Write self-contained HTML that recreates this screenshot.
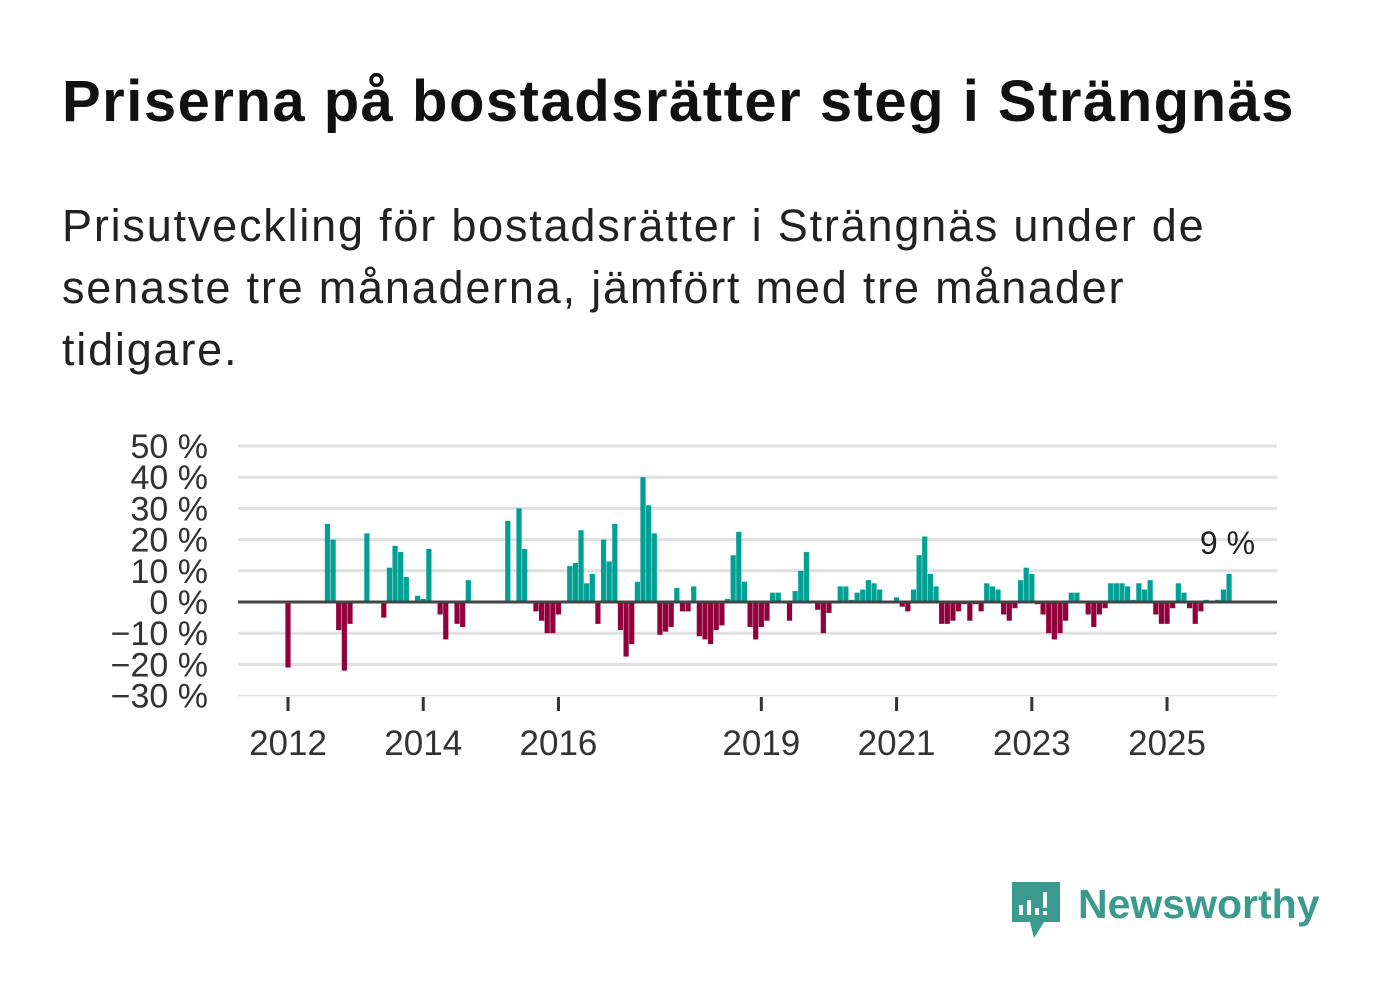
<!DOCTYPE html>
<html><head><meta charset="utf-8"><style>
body{margin:0;width:1382px;height:999px;background:#fff;font-family:"Liberation Sans",sans-serif;overflow:hidden;position:relative}
h1{position:absolute;left:62px;top:68px;margin:0;font-size:58px;font-weight:bold;color:#111;letter-spacing:1.5px;white-space:nowrap}
p{position:absolute;left:62px;top:195px;margin:0;font-size:45px;line-height:62px;color:#222;letter-spacing:1.8px;white-space:nowrap}
svg{position:absolute;left:0;top:0}
</style></head><body>
<h1>Priserna på bostadsrätter steg i Strängnäs</h1>
<p>Prisutveckling för bostadsrätter i Strängnäs under de<br>senaste tre månaderna, jämfört med tre månader<br>tidigare.</p>
<svg id="chart" width="1382" height="999"></svg>
<svg width="1382" height="999" style="pointer-events:none">
<g>
<path d="M1012 882h48v40h-16l-10 16-4-16h-18z" fill="#3a9a8d"/>
<rect x="1019" y="905" width="4" height="10" fill="#fff"/><rect x="1027" y="900" width="4" height="15" fill="#fff"/><rect x="1035" y="908" width="4" height="7" fill="#fff"/><rect x="1043" y="892" width="4" height="16" fill="#fff"/><rect x="1043" y="911" width="4" height="4" fill="#fff"/>
<text x="1078" y="918" font-size="41" font-weight="bold" fill="#3a9a8d" font-family="Liberation Sans, sans-serif">Newsworthy</text>
</g></svg>
<script>
const startIndex=[0,7,8,9,10,11,14,17,18,19,20,21,23,24,25,27,28,30,31,32,39,41,42,44,45,46,47,48,50,51,52,53,54,55,56,57,58,59,60,61,62,63,64,65,66,67,68,69,70,71,72,73,74,75,76,77,78,79,80,81,82,83,84,85,86,87,89,90,91,92,93,94,95,96,98,99,100,101,102,103,104,105,108,109,110,111,112,113,114,115,116,117,118,119,120,121,122,123,124,125,126,127,128,129,130,131,132,133,134,135,136,137,138,139,140,142,143,144,145,146,147,148,149,150,151,152,153,154,155,156,157,158,159,160,161,162,163,165,166,167];
const values=[-21,25,20,-9,-22,-7,22,-5,11,18,16,8,2,1,17,-4,-12,-7,-8,7,26,30,17,-3,-6,-10,-10,-4,11.5,12.5,23,6,9,-7,20,13,25,-9,-17.5,-13.5,6.5,40,31,22,-10.5,-9.5,-8,4.5,-3,-3,5,-11,-12,-13.5,-9,-7.5,1,15,22.5,6.5,-8,-12,-8,-6,3,3,-6,3.5,10,16,0.5,-2.5,-10,-3.5,5,5,0.7,3,4,7,6,4,1.5,-1.5,-3,4,15,21,9,5,-7,-7,-6,-3,-0.7,-6,-0.7,-3,6,5,4,-4,-6,-2,7,11,9,-0.7,-4,-10,-12,-10,-6,3,3,-4,-8,-4,-2,6,6,6,5,0.7,6,4,7,-4,-7,-7,-2,6,3,-2,-7,-3,0.7,0.7,4,9];
const yTicks=[50,40,30,20,10,0,-10,-20,-30];
const xTickYears=[2012,2014,2016,2019,2021,2023,2025];
const NS="http://www.w3.org/2000/svg",svg=document.getElementById('chart');
const y=v=>602-v*3.12, x=i=>288+i*5.635, xy=yr=>x((yr-2012)*12);
function el(t,a){const e=document.createElementNS(NS,t);for(const k in a)e.setAttribute(k,a[k]);svg.appendChild(e);return e;}
yTicks.forEach(t=>{
 if(t!==0){const g=el('line',{x1:238,x2:1277,y1:y(t),y2:y(t),stroke:'#e0e0e0','stroke-width':t===-30?1.5:3});
 
 }
 const l=el('text',{x:208,y:y(t)+12,'text-anchor':'end','font-size':34,fill:'#333','font-family':'Liberation Sans, sans-serif'});
 l.textContent=(t<0?'\u2212'+(-t):t)+' %';
 
 
});
values.forEach((v,k)=>{
 const b=el('rect',{x:x(startIndex[k])-2.6,width:5.2,y:Math.min(y(v),602),height:Math.abs(y(v)-602),fill:v>=0?'#00a094':'#92003b'});
 
 
});
const z=el('line',{x1:238,x2:1277,y1:602,y2:602,stroke:'#444','stroke-width':3});


xTickYears.forEach(yr=>{
 const t=el('line',{x1:xy(yr),x2:xy(yr),y1:697,y2:711,stroke:'#333','stroke-width':3});
 
 
 const l=el('text',{x:xy(yr),y:755,'text-anchor':'middle','font-size':35,fill:'#333','font-family':'Liberation Sans, sans-serif'});
 l.textContent=yr;
 
 
});
const last=values[values.length-1];
const a=el('text',{x:x(startIndex[startIndex.length-1])+26,y:y(last)-20,'text-anchor':'end','font-size':32,fill:'#222','font-family':'Liberation Sans, sans-serif'});
a.textContent=last+' %';


</script>
</body></html>
